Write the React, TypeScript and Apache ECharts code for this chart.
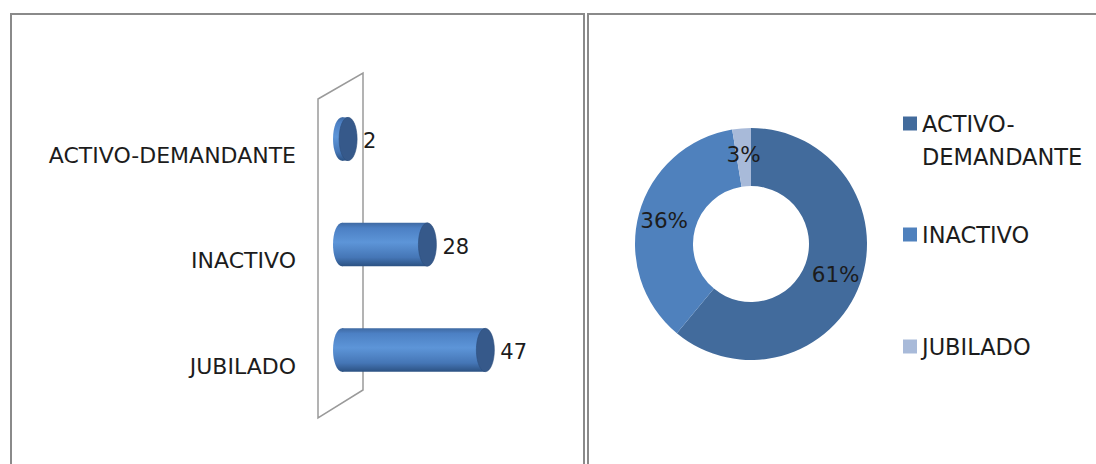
import React, { useEffect, useRef } from "react";
import * as echarts from "echarts";

const categories = ["ACTIVO-DEMANDANTE", "INACTIVO", "JUBILADO"];
const counts = [2, 28, 47];

const pieNames = ["ACTIVO-DEMANDANTE", "INACTIVO", "JUBILADO"];
const pieValues = [47, 28, 2];
const pieColors = ["#426b9c", "#4f81bd", "#a8bad9"];

const FONT = "DejaVu Sans";
const TEXT = "#1c1c1c";

export default function App() {
  const ref = useRef<HTMLDivElement>(null);
  useEffect(() => {
    if (!ref.current) return;
    const chart = echarts.init(ref.current, null, { renderer: "svg" });

    const bodyGrad = () =>
      new echarts.graphic.LinearGradient(0, 0, 0, 1, [
        { offset: 0, color: "#3f6aa3" },
        { offset: 0.12, color: "#4c80c4" },
        { offset: 0.45, color: "#5d95d8" },
        { offset: 0.8, color: "#4576b6" },
        { offset: 1, color: "#2c5283" },
      ]);

    const option: any = {
      animation: false,
      backgroundColor: "#ffffff",
      graphic: [
        {
          type: "rect",
          z: 0,
          shape: { x: 11, y: 14, width: 573, height: 470 },
          style: { fill: "none", stroke: "#8a8a8a", lineWidth: 2 },
          silent: true,
        },
        {
          type: "rect",
          z: 0,
          shape: { x: 588, y: 14, width: 520, height: 470 },
          style: { fill: "none", stroke: "#8a8a8a", lineWidth: 2 },
          silent: true,
        },
        {
          type: "polygon",
          z: 0,
          shape: {
            points: [
              [318, 99],
              [363, 73],
              [363, 390],
              [318, 418],
            ],
          },
          style: { fill: "none", stroke: "#9a9a9a", lineWidth: 1.5 },
          silent: true,
        },
      ],
      grid: { left: 342, top: 86.25, width: 152.5, height: 316.5 },
      xAxis: { type: "value", min: 0, max: 50, show: false },
      yAxis: {
        type: "category",
        data: categories,
        inverse: true,
        axisLine: { show: false },
        axisTick: { show: false },
        splitLine: { show: false },
        axisLabel: {
          margin: 46,
          verticalAlign: "top",
          lineHeight: 32,
          fontFamily: FONT,
          fontSize: 22,
          color: TEXT,
        },
      },
      legend: [
        {
          data: [pieNames[0]],
          orient: "vertical",
          left: 903,
          top: 74,
          padding: 0,
          itemWidth: 14,
          itemHeight: 14,
          icon: "rect",
          formatter: () => "\nACTIVO-\nDEMANDANTE",
          textStyle: {
            fontFamily: FONT,
            fontSize: 22.5,
            color: TEXT,
            lineHeight: 33,
          },
        },
        {
          data: [pieNames[1]],
          orient: "vertical",
          left: 903,
          top: 223,
          padding: 0,
          itemWidth: 14,
          itemHeight: 14,
          icon: "rect",
          textStyle: { fontFamily: FONT, fontSize: 22.5, color: TEXT },
        },
        {
          data: [pieNames[2]],
          orient: "vertical",
          left: 903,
          top: 335,
          padding: 0,
          itemWidth: 14,
          itemHeight: 14,
          icon: "rect",
          textStyle: { fontFamily: FONT, fontSize: 22.5, color: TEXT },
        },
      ],
      series: [
        {
          type: "custom",
          z: 2,
          encode: { x: 0, y: 1 },
          data: counts.map((v, i) => [v, i]),
          renderItem: (params: any, api: any) => {
            const v = api.value(0);
            const ci = api.value(1);
            const p0 = api.coord([0, ci]);
            const p1 = api.coord([v, ci]);
            const band = api.size([0, 1])[1];
            const h = band * 0.41;
            const rx = 9;
            const cy = p0[1];
            return {
              type: "group",
              children: [
                {
                  type: "ellipse",
                  shape: { cx: p0[0], cy, rx, ry: h / 2 },
                  style: { fill: bodyGrad() },
                },
                {
                  type: "rect",
                  shape: { x: p0[0], y: cy - h / 2, width: p1[0] - p0[0], height: h },
                  style: { fill: bodyGrad() },
                },
                {
                  type: "ellipse",
                  shape: { cx: p1[0], cy, rx, ry: h / 2 },
                  style: { fill: "#36598a", stroke: "#2d4f7e", lineWidth: 0.6 },
                },
                {
                  type: "text",
                  style: {
                    text: String(v),
                    x: p1[0] + rx + 6,
                    y: cy + 2,
                    verticalAlign: "middle",
                    align: "left",
                    fontFamily: FONT,
                    fontSize: 21,
                    fill: TEXT,
                  },
                },
              ],
            };
          },
        },
        {
          type: "pie",
          center: [751, 244],
          radius: [58, 116],
          startAngle: 90,
          clockwise: true,
          avoidLabelOverlap: false,
          data: pieNames.map((n, i) => ({
            name: n,
            value: pieValues[i],
            itemStyle: { color: pieColors[i] },
          })),
          itemStyle: { borderWidth: 0 },
          label: {
            show: true,
            position: "inside",
            formatter: (p: any) => Math.round(p.percent) + "%",
            fontFamily: FONT,
            fontSize: 21.5,
            color: TEXT,
          },
          labelLine: { show: false },
          emphasis: { disabled: true },
        },
      ],
    };
    chart.setOption(option);
    return () => chart.dispose();
  }, []);
  return (
    <div
      ref={ref}
      style={{ position: "fixed", left: 0, top: 0, width: 1096, height: 464 }}
    />
  );
}
